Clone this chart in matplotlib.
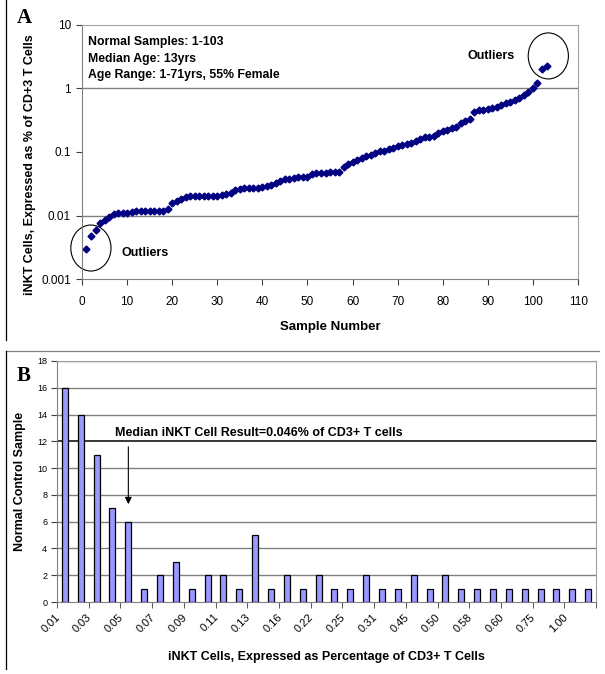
import numpy as np
import matplotlib
matplotlib.use('Agg')
import matplotlib.pyplot as plt
from matplotlib.patches import Ellipse
from matplotlib.lines import Line2D
from matplotlib.transforms import ScaledTranslation

plt.rcParams['font.family'] = ['Liberation Sans', 'DejaVu Sans']

# panel A: iNKT % per sample, sorted
inkt_pct = [0.003, 0.0048, 0.0059, 0.0076, 0.0085, 0.0096, 0.0105, 0.0108, 0.0108, 0.0108,
            0.0115, 0.0116, 0.0116, 0.0116, 0.0116, 0.0116, 0.0117, 0.0118, 0.0128, 0.0155,
            0.0172, 0.0185, 0.0195, 0.020, 0.020, 0.020, 0.020, 0.020, 0.020, 0.0205,
            0.021, 0.022, 0.023, 0.025, 0.026, 0.027, 0.027, 0.027, 0.027, 0.028,
            0.029, 0.030, 0.033, 0.035, 0.037, 0.038, 0.039, 0.040, 0.040, 0.040,
            0.045, 0.047, 0.047, 0.047, 0.048, 0.048, 0.049, 0.059, 0.065, 0.070,
            0.075, 0.080, 0.085, 0.090, 0.097, 0.102, 0.105, 0.110, 0.117, 0.125,
            0.130, 0.135, 0.140, 0.150, 0.160, 0.170, 0.172, 0.180, 0.200, 0.215,
            0.225, 0.235, 0.245, 0.290, 0.310, 0.330, 0.430, 0.450, 0.460, 0.480,
            0.500, 0.520, 0.540, 0.580, 0.620, 0.660, 0.720, 0.780, 0.880, 1.000,
            1.200, 2.000, 2.250]
samples = np.arange(1, len(inkt_pct) + 1)

# panel B: histogram of samples per iNKT % bin
bin_counts = [16, 14, 11, 7, 6, 1, 2, 3, 1, 2, 2, 1, 5, 1, 2, 1, 2,
              1, 1, 2, 1, 1, 2, 1, 2, 1, 1, 1, 1, 1, 1, 1, 1, 1]
bin_labels = ['0.01', '0.03', '0.05', '0.07', '0.09', '0.11', '0.13', '0.16', '0.22',
              '0.25', '0.31', '0.45', '0.50', '0.58', '0.60', '0.75', '1.00']

fig = plt.figure(figsize=(6.05, 6.74), dpi=100)

# ---------- A ----------
axA = fig.add_axes([0.1355, 0.586, 0.820, 0.377])
axA.plot(samples, inkt_pct, 'D', color='#000080', ms=3.5, mec='#000080')
axA.set_yscale('log')
axA.set_ylim(0.001, 10)
axA.set_xlim(0, 110)
axA.set_xticks(range(0, 111, 10))
axA.set_yticks([0.001, 0.01, 0.1, 1, 10])
axA.set_yticklabels(['0.001', '0.01', '0.1', '1', '10'])
axA.minorticks_off()
axA.axhline(1, color='#808080', lw=1, zorder=0)
axA.axhline(0.01, color='#808080', lw=1, zorder=0)
for s in ['top', 'right']:
    axA.spines[s].set_color('#a0a0a0')
axA.spines['left'].set_color('#808080')
axA.spines['bottom'].set_color('#808080')
axA.tick_params(labelsize=8.5, length=4, width=0.8, color='#404040', pad=4)
axA.tick_params(axis='x', pad=8)
axA.set_xlabel('Sample Number', fontsize=9.5, fontweight='bold')
axA.xaxis.set_label_coords(0.5, -0.165)
axA.set_ylabel('iNKT Cells, Expressed as % of CD+3 T Cells', fontsize=9, fontweight='bold')
axA.yaxis.set_label_coords(-0.092, 0.45)
axA.text(0.012, 0.955, 'Normal Samples: 1-103\nMedian Age: 13yrs\nAge Range: 1-71yrs, 55% Female',
         transform=axA.transAxes, fontsize=8.8, fontweight='bold', va='top', linespacing=1.5)
axA.add_patch(Ellipse((0.018, 0.122), 0.081, 0.181, transform=axA.transAxes,
                      fill=False, ec='black', lw=0.8, clip_on=False))
axA.add_patch(Ellipse((0.940, 0.878), 0.081, 0.181, transform=axA.transAxes,
                      fill=False, ec='black', lw=0.8, clip_on=False))
axA.text(0.079, 0.102, 'Outliers', transform=axA.transAxes, fontsize=9, fontweight='bold', va='center')
axA.text(0.778, 0.878, 'Outliers', transform=axA.transAxes, fontsize=9, fontweight='bold', va='center')
fig.text(0.028, 0.973, 'A', fontsize=15, fontweight='bold', family='Liberation Serif', va='center')

# ---------- B ----------
axB = fig.add_axes([0.0942, 0.1068, 0.891, 0.3576])
x = np.arange(len(bin_counts))
axB.bar(x, bin_counts, width=0.38, color='#9999ff', edgecolor='black', lw=0.9, zorder=3)
axB.set_xlim(-0.5, len(bin_counts) - 0.5)
axB.set_ylim(0, 18)
axB.set_yticks(range(0, 19, 2))
for yv in range(2, 19, 2):
    if yv != 12:
        axB.axhline(yv, color='#808080', lw=1, zorder=0)
axB.axhline(12, color='black', lw=1.1, zorder=1)
for s in ['top', 'right']:
    axB.spines[s].set_color('#a0a0a0')
axB.spines['left'].set_color('#808080')
axB.spines['bottom'].set_color('#808080')
axB.set_xticks(x[::2])
axB.set_xticklabels(bin_labels, rotation=45, ha='right', rotation_mode='anchor', fontsize=8)
axB.set_xticks(np.arange(-0.5, len(bin_counts), 2), minor=True)
axB.tick_params(axis='x', which='major', length=0, pad=7)
axB.tick_params(axis='x', which='minor', length=4, color='#404040')
axB.tick_params(axis='y', labelsize=6.5, length=4, color='#404040', pad=3)
off = ScaledTranslation(-0.1, 0, fig.dpi_scale_trans)
for lbl in axB.get_xticklabels():
    lbl.set_transform(lbl.get_transform() + off)
axB.set_xlabel('iNKT Cells, Expressed as Percentage of CD3+ T Cells', fontsize=9, fontweight='bold')
axB.xaxis.set_label_coords(0.5, -0.205)
axB.set_ylabel('Normal Control Sample', fontsize=9, fontweight='bold')
axB.yaxis.set_label_coords(-0.058, 0.5)
axB.text(3.16, 12.65, 'Median iNKT Cell Result=0.046% of CD3+ T cells', fontsize=9,
         fontweight='bold', va='center', zorder=5)
axB.annotate('', xy=(4, 7.1), xytext=(4, 11.8),
             arrowprops=dict(arrowstyle='-|>', color='black', lw=0.8, mutation_scale=10), zorder=5)
fig.text(0.028, 0.442, 'B', fontsize=15, fontweight='bold', family='Liberation Serif', va='center')

# panel frame lines
fig.add_artist(Line2D([0.010, 0.010], [1.0, 0.496], color='black', lw=0.9, transform=fig.transFigure))
fig.add_artist(Line2D([0.010, 0.990], [0.479, 0.479], color='#808080', lw=0.9, transform=fig.transFigure))
fig.add_artist(Line2D([0.010, 0.010], [0.479, 0.008], color='black', lw=0.9, transform=fig.transFigure))

fig.savefig('out.png', dpi=100)
